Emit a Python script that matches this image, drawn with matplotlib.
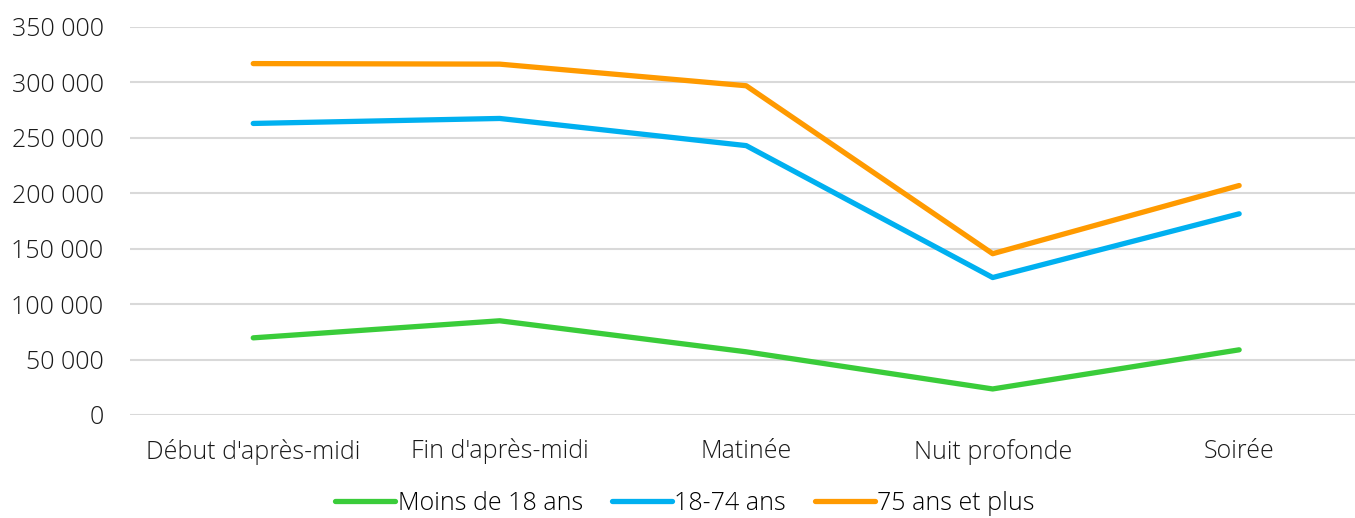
import matplotlib
matplotlib.use("Agg")
from matplotlib import pyplot as plt
from matplotlib.ticker import FuncFormatter

plt.rcParams['font.family'] = ['Open Sans', 'DejaVu Sans']
plt.rcParams['font.weight'] = 'light'

categories = ["Début d'après-midi", "Fin d'après-midi", "Matinée", "Nuit profonde", "Soirée"]
moins_18 = [69600, 85000, 57000, 23500, 58800]
ans_18_74 = [263000, 267500, 243000, 124000, 181500]
ans_75_plus = [317000, 316500, 297000, 145500, 207000]

series = [
    ("Moins de 18 ans", moins_18, "#3ACC3A"),
    ("18-74 ans", ans_18_74, "#00B0F0"),
    ("75 ans et plus", ans_75_plus, "#FF9A00"),
]

fig = plt.figure(figsize=(13.55, 5.18), dpi=100)
ax = fig.add_axes([130 / 1355, 1 - 415 / 518, 1 - 130 / 1355, (415 - 27) / 518])

x = range(len(categories))
for label, vals, color in series:
    ax.plot(x, vals, color=color, lw=3.8, solid_capstyle='round', label=label)

ax.set_ylim(0, 350000)
ax.set_yticks(range(0, 350001, 50000))
ax.yaxis.set_major_formatter(FuncFormatter(lambda v, p: f"{int(v):,}".replace(",", " ")))
ax.set_xlim(-0.5, 4.47)
ax.set_xticks(list(x))
ax.set_xticklabels(categories)
ax.grid(axis='y', color='#D9D9D9', lw=1.5)
ax.set_axisbelow(True)
for s in ax.spines.values():
    s.set_visible(False)
ax.tick_params(length=0, labelsize=18, colors='#1a1a1a', pad=19)
ax.tick_params(axis='x', pad=17)

fig.legend(loc='center', bbox_to_anchor=(685 / 1355, 1 - 503 / 518), ncol=3, frameon=False,
           fontsize=18, handlelength=2.4, handletextpad=0.1, columnspacing=1.15)

fig.savefig("out.png", dpi=100)
